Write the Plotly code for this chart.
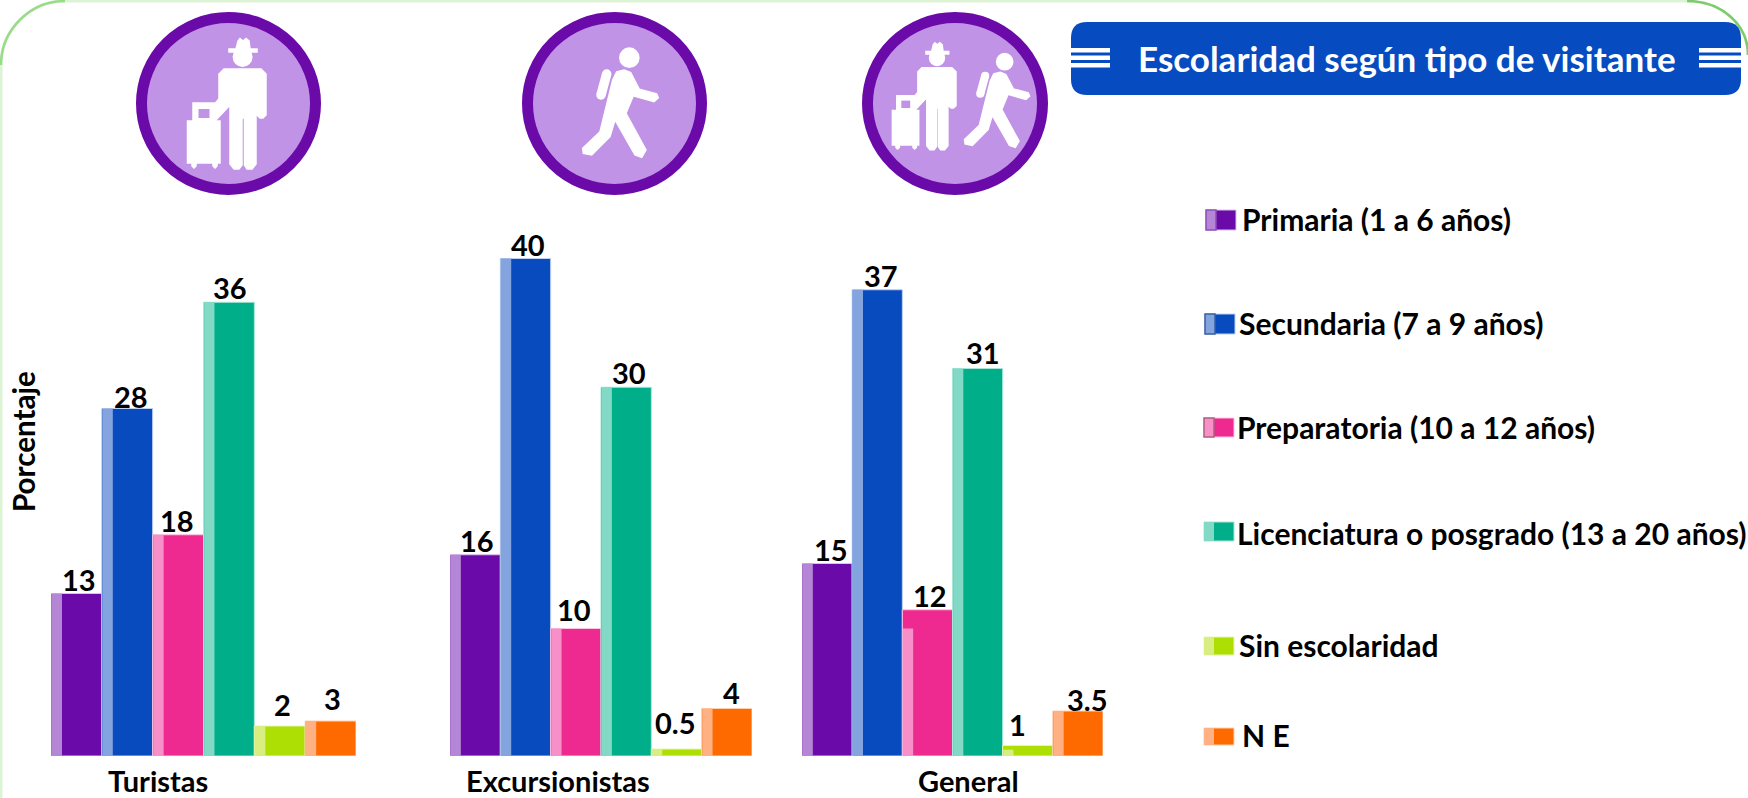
import plotly.graph_objects as go

# ---------- data ----------
grupos = ["Turistas", "Excursionistas", "General"]
series = ["Primaria (1 a 6 años)", "Secundaria (7 a 9 años)", "Preparatoria (10 a 12 años)",
          "Licenciatura o posgrado (13 a 20 años)", "Sin escolaridad", "N E"]
# printed labels
etq_primaria = ["13", "16", "15"]
etq_secundaria = ["28", "40", "37"]
etq_preparatoria = ["18", "10", "12"]
etq_licenciatura = ["36", "30", "31"]
etq_sin = ["2", "0.5", "1"]
etq_ne = ["3", "4", "3.5"]
# bar heights
primaria = [13.0, 16.1, 15.4]
secundaria = [27.8, 39.8, 37.3]
preparatoria = [17.7, 10.2, 11.7]
licenciatura = [36.3, 29.5, 31.0]
sin_escolaridad = [2.4, 0.56, 0.85]
ne = [2.8, 3.8, 3.6]
# the pale strip of two General bars is shorter than the bar
franja_preparatoria = [17.7, 10.2, 10.2]
franja_sin = [2.4, 0.56, 0.5]

valores = [primaria, secundaria, preparatoria, licenciatura, sin_escolaridad, ne]
franjas = [primaria, secundaria, franja_preparatoria, licenciatura, franja_sin, ne]
etiquetas = [etq_primaria, etq_secundaria, etq_preparatoria, etq_licenciatura, etq_sin, etq_ne]

# ---------- style ----------
FONT = "Lato"
W, H = 1748, 798
oscuro = ["#6A0AA8", "#074BBF", "#EE2A90", "#00AF8A", "#AEDF04", "#FF6A00"]
claro = ["#B586D6", "#83A4DF", "#F78FC8", "#82D9C5", "#D8EE80", "#FFB184"]
borde = ["#D9C2EC", "#BFD0F0", "#FBC4E2", "#A8E6D8", "#E8F6B0", "#FFD0B0"]
dominios = [(51, 356), (450, 752), (802, 1103)]
BASE_Y = 756
PX_POR_UNIDAD = 12.5
ANCHO_BARRA = 1 / 6
ANCHO_FRANJA = 0.034
desp_x = [[3, 2, 4], [4, 2, 4], [-1, -2, 3], [1, 3, 5], [3, -1, -10], [2, 5, 10]]
desp_y = [[0, 0, 0], [-2, 0, 0], [0, 5, 0], [0, 0, 2], [7, 12, 6], [8, 2, -3]]

fig = go.Figure()
ejes_x = ["x", "x2", "x3"]
anotaciones = []
for g, grupo in enumerate(grupos):
    for s in range(6):
        inicio = -0.5 + s * ANCHO_BARRA
        fig.add_bar(x=[grupo], y=[valores[s][g]], width=ANCHO_BARRA, offset=inicio, xaxis=ejes_x[g], yaxis="y",
                    marker=dict(color=oscuro[s], line=dict(color=borde[s], width=1)),
                    name=series[s], showlegend=False)
        fig.add_bar(x=[grupo], y=[franjas[s][g]], width=ANCHO_FRANJA, offset=inicio + 0.002, xaxis=ejes_x[g], yaxis="y",
                    marker=dict(color=claro[s], line=dict(width=0)),
                    name=series[s], showlegend=False, hoverinfo="skip")
        anotaciones.append(dict(x=inicio + ANCHO_BARRA / 2, y=valores[s][g], xref=ejes_x[g], yref="y",
                                text=etiquetas[s][g], showarrow=False, yanchor="bottom",
                                xshift=desp_x[s][g], yshift=desp_y[s][g] - 5,
                                font=dict(family=FONT, size=29, color="black", weight=700)))

# ---------- decoration helpers (pixel space via a hidden full-figure axis pair) ----------
shapes = []
def forma(**k):
    k.setdefault("xref", "x4"); k.setdefault("yref", "y4"); k.setdefault("layer", "below")
    shapes.append(k)
def texto(x, y, t, size, color="black", xanchor="left", textangle=0):
    anotaciones.append(dict(x=x, y=y, xref="x4", yref="y4", text=t, showarrow=False, xanchor=xanchor, yanchor="middle",
                            textangle=textangle, font=dict(family=FONT, size=size, color=color, weight=700)))
def poly(puntos, color="white", lw=1.5):
    d = "M" + " L".join(f"{x:.1f},{y:.1f}" for x, y in puntos) + " Z"
    forma(type="path", path=d, fillcolor=color, line=dict(color=color, width=lw), layer="above")
def trazo(a, b, w):
    forma(type="line", x0=a[0], y0=a[1], x1=b[0], y1=b[1], line=dict(color="white", width=w), layer="above")
    for p in (a, b):
        forma(type="circle", x0=p[0]-w/2, x1=p[0]+w/2, y0=p[1]-w/2, y1=p[1]+w/2, fillcolor="white",
              line=dict(width=0), layer="above")
def disco(cx, cy, r):
    forma(type="circle", x0=cx-r, x1=cx+r, y0=cy-r, y1=cy+r, fillcolor="white", line=dict(width=0), layer="above")

def turista(f=lambda x, y: (x, y), k=1.0):
    T = lambda pts: [f(*p) for p in pts]
    disco(*f(242.6, 57), 10 * k)
    poly(T([(229, 49), (236, 49), (238, 41), (240, 38.5), (243, 41), (246, 38.5), (249, 41), (250, 49), (257, 49), (257, 52), (229, 52)]))
    # body with arms and legs
    poly(T([(224, 69), (261, 69), (266, 74), (266, 115), (263, 118), (260, 118), (257, 115), (257, 85), (256, 85),
            (256, 164), (252, 169), (247, 169), (244.5, 165), (244.5, 118), (242, 118), (242, 165), (239, 169), (234, 169),
            (230, 164), (230, 105), (214, 122), (212, 116), (219, 108), (219, 74)]))
    # arm to handle
    poly(T([(211, 108), (225, 92), (230, 92), (230, 104), (215, 120)]))
    # suitcase
    poly(T([(187.5, 121), (220, 121), (220, 163), (217, 163), (217, 166), (215, 168), (213, 166), (213, 163), (196, 163), (196, 166), (194, 168),
            (192, 166), (192, 163), (187.5, 163)]))
    poly(T([(193, 103), (214, 103), (214, 121), (193, 121)]))
    poly(T([(198.5, 109), (209.5, 109), (209.5, 118), (198.5, 118)]), color="#C193E6", lw=0)

def caminante(f, k=1.0):
    disco(*f(388, 173), 10.3 * k)
    trazo(f(320, 222), f(303, 285), 9.5 * k)
    poly([f(*p) for p in [(372, 210), (392, 218), (418, 268), (470, 282), (475, 293), (462, 305), (400, 287), (378, 340), (438, 450),
                           (425, 472), (405, 465), (345, 360), (330, 410), (275, 465), (250, 460), (248, 445), (300, 395), (338, 240), (350, 216)]])

# background frame
forma(type="path", path="M1,798 L1,65 C1,30 30,1 65,1 L1687,1 C1722,1 1748,25 1748,55", line=dict(color="#DDF3D5", width=3))
forma(type="path", path="M1,65 C1,30 30,1 65,1", line=dict(color="#9ADB8A", width=2.5))
forma(type="path", path="M1687,1 C1722,1 1748,25 1748,55", line=dict(color="#7CCB6C", width=2.5))

# icon discs
for x0, x1 in [(136, 321), (522, 707), (862, 1048)]:
    forma(type="circle", x0=x0 + 5.5, x1=x1 - 5.5, y0=17.5, y1=189.5, fillcolor="#C193E6", line=dict(color="#6A0AA8", width=11))
turista()
caminante(lambda x, y: (500 + x / 3, y / 3), 1.0)
turista(lambda x, y: (937 + 0.81 * (x - 242.6), 58 + 0.82 * (y - 57)), 0.82)
caminante(lambda x, y: (820 + (554 + 0.86 * (x - 388)) / 3, (185 + 0.86 * (y - 173)) / 3), 0.86)

# title banner
forma(type="path", fillcolor="#064BBF", line=dict(width=0),
      path="M1087,22 L1725,22 Q1741,22 1741,38 L1741,79 Q1741,95 1725,95 L1087,95 Q1071,95 1071,79 L1071,38 Q1071,22 1087,22 Z")
for a, b in [(1071, 1110), (1699, 1741)]:
    for y0 in (48, 55.5, 63):
        forma(type="rect", x0=a, x1=b, y0=y0, y1=y0 + 4.5, fillcolor="white", line=dict(width=0), layer="above")
texto(1406.5, 58, "Escolaridad según tipo de visitante", 35, "white", "center")

# legend
filas = [(1206, 210, 230, 1240, 219), (1205, 314, 334, 1237, 323), (1204, 418, 437, 1235, 427),
         (1204, 522, 541, 1235, 533), (1204, 637, 655, 1237, 645), (1204, 728, 745, 1240, 735)]
contorno = ["#8E4FB8", "#3A5F9E", "#B0607F", None, None, None]
for s, (x0, y0, y1, xt, yt) in enumerate(filas):
    forma(type="rect", x0=x0, x1=x0 + 30, y0=y0, y1=y1, fillcolor=oscuro[s], line=dict(color=borde[s], width=1))
    linea = dict(color=contorno[s], width=1.5) if contorno[s] else dict(width=0)
    forma(type="rect", x0=x0, x1=x0 + 10, y0=y0, y1=y1, fillcolor=claro[s], line=linea, layer="above")
    texto(xt, yt, series[s], 30)

# axis-like texts
texto(23, 442, "Porcentaje", 29.6, xanchor="center", textangle=-90)
texto(158, 780, "Turistas", 29, xanchor="center")
texto(558, 780, "Excursionistas", 29, xanchor="center")
texto(968, 780, "General", 29, xanchor="center")

layout_x = {}
for i, (a, b) in enumerate(dominios):
    nombre = "xaxis" if i == 0 else f"xaxis{i+1}"
    layout_x[nombre] = dict(domain=[a / W, b / W], anchor="y", visible=False, type="category", range=[-0.5, 0.5],
                            fixedrange=True)

fig.update_layout(
    width=W, height=H, margin=dict(l=0, r=0, t=0, b=0), paper_bgcolor="white", plot_bgcolor="rgba(0,0,0,0)",
    barmode="overlay", showlegend=False, font=dict(family=FONT),
    yaxis=dict(domain=[(H - BASE_Y) / H, 1], range=[0, BASE_Y / PX_POR_UNIDAD], visible=False, fixedrange=True),
    xaxis4=dict(domain=[0, 1], range=[0, W], anchor="y4", visible=False, fixedrange=True),
    yaxis4=dict(domain=[0, 1], range=[H, 0], anchor="x4", visible=False, fixedrange=True),
    shapes=shapes, annotations=anotaciones, **layout_x,
)
fig.write_html("out.html", config={"displayModeBar": False},
               post_script="document.body.style.margin='0';document.body.style.overflow='hidden';")
